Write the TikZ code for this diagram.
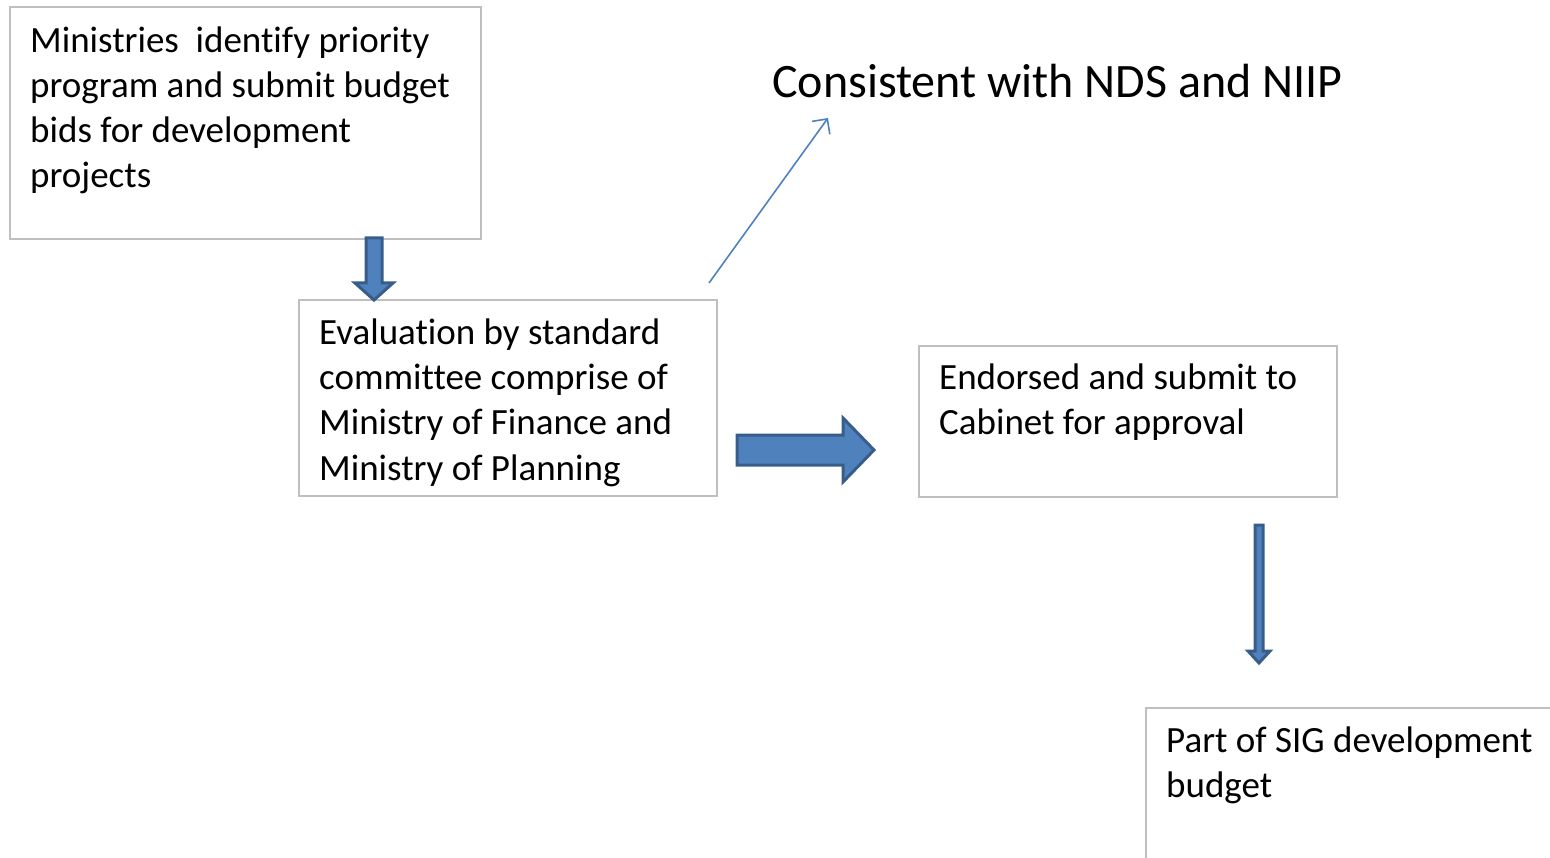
\documentclass[tikz,border=0pt]{standalone}
\usepackage{fontspec}
\setmainfont[Ligatures={NoCommon}]{Carlito}
\usetikzlibrary{arrows.meta,calc}
\definecolor{framegrey}{RGB}{191,191,191}
\definecolor{arrowfill}{RGB}{79,129,189}
\definecolor{arrowedge}{RGB}{56,93,138}
\tikzset{
  frame/.style={draw=framegrey, line width=2pt, anchor=north west, inner sep=0pt},
  boxtext/.style={anchor=base west, inner sep=0pt, font=\fontsize{37}{45}\selectfont},
  blockarrow/.style={fill=arrowfill, draw=arrowedge, line width=3pt, line join=miter},
}

\begin{document}
\begin{tikzpicture}[x=1pt,y=-1pt]
  \clip (0,0) rectangle (1550,858);
  \useasboundingbox (0,0) rectangle (1550,858);

  % boxes
  \node[frame, minimum width=471, minimum height=232] (ministries) at (9,6) {};
  \node[frame, minimum width=418, minimum height=196] (evaluation) at (298,299) {};
  \node[frame, minimum width=418, minimum height=151] (endorsed) at (918,345) {};
  \node[frame, minimum width=460, minimum height=200] (sigbudget) at (1145,707) {};

  \node[boxtext] (ministriesText) at ([shift={(21,47)}]ministries.north west)
    {\parbox[t]{460pt}{\raggedright Ministries\ \ identify priority\\ program and submit budget\\ bids for development\\ projects}};
  \node[boxtext] (evaluationText) at ([shift={(21,46)}]evaluation.north west)
    {\parbox[t]{410pt}{\raggedright Evaluation by standard\\ committee comprise of\\ Ministry of Finance and\\ Ministry of Planning}};
  \node[boxtext] (endorsedText) at ([shift={(21,45)}]endorsed.north west)
    {\parbox[t]{410pt}{\raggedright Endorsed and submit to\\ Cabinet for approval}};
  \node[boxtext] (sigbudgetText) at ([shift={(21,45)}]sigbudget.north west)
    {\parbox[t]{410pt}{\raggedright Part of SIG development\\ budget}};

  \node[anchor=base west, inner sep=0pt, font=\fontsize{48}{58}\selectfont] (consistent) at (772,98)
    {Consistent with NDS and NIIP};

  % block arrows between the boxes
  \draw[blockarrow] (366,238) -- (382,238) -- (382,283) -- (393,283) -- (374,300)
    -- (355,283) -- (366,283) -- cycle;
  \draw[blockarrow] (737,435) -- (843,435) -- (843,418) -- (874,450) -- (843,482)
    -- (843,465) -- (737,465) -- cycle;
  \draw[blockarrow] (1255,525) -- (1263,525) -- (1263,651) -- (1270,651) -- (1259,663)
    -- (1248,651) -- (1255,651) -- cycle;

  % thin arrow up to the note
  \coordinate (noteStart) at ([shift={(-9,-16)}]evaluation.north east);
  \coordinate (noteEnd) at (828,118);
  \draw[arrowfill, line width=1.6pt, -{Straight Barb[length=11pt,width=22pt]}] (noteStart) -- (noteEnd);
\end{tikzpicture}
\end{document}
